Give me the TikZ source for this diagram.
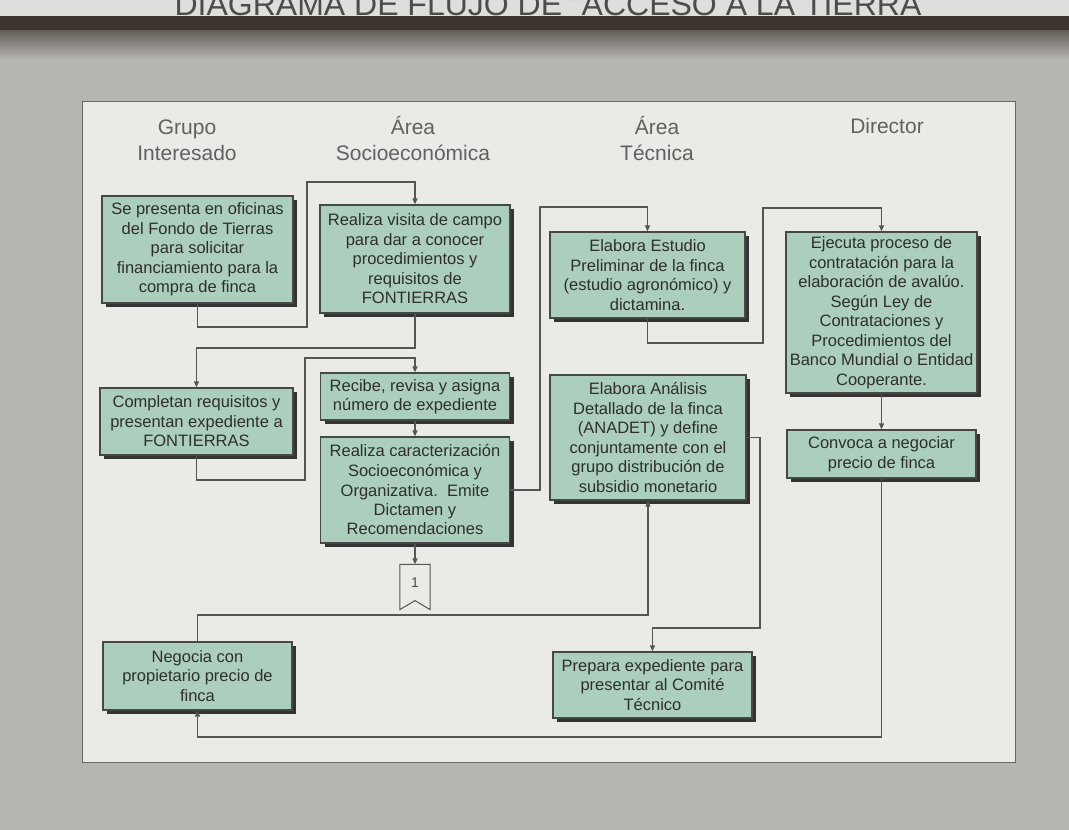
\documentclass[tikz,border=0pt]{standalone}
\usepackage{fontspec}
\setmainfont{Liberation Sans}
\usetikzlibrary{arrows.meta,shadows}

\definecolor{fondo}{RGB}{182,182,179}
\definecolor{panel}{RGB}{234,234,231}
\definecolor{relleno}{RGB}{172,207,189}
\definecolor{borde}{RGB}{70,72,70}
\definecolor{trazo}{RGB}{85,85,85}
\definecolor{banda}{RGB}{62,52,46}

\tikzset{every picture/.style={line width=1.2pt}}

\begin{document}
\begin{tikzpicture}[x=1pt,y=1pt,yscale=-1,
  caja/.style={draw=borde, fill=relleno, line width=1.2pt, align=center, inner sep=1pt,
    font=\fontsize{16.5}{19.5}\selectfont, text=black!82,
    general shadow={fill=black!80, shadow xshift=4pt, shadow yshift=-4pt}},
  linea/.style={draw=trazo, line width=1.3pt},
  flecha/.style={linea, -{Triangle[length=6pt,width=5pt]}},
  encabezado/.style={align=center, font=\fontsize{21}{26}\selectfont, text=black!62}]
\clip (0,0) rectangle (1069,830);

% fondo y banda superior
\fill[fondo] (0,0) rectangle (1069,830);
\fill[panel!95!black] (0,0) rectangle (1069,16);
\shade[top color=banda, bottom color=fondo] (0,16) rectangle (1069,60);
\fill[banda] (0,16) rectangle (1069,30);
\draw (548,15) node [anchor=base, font=\fontsize{32}{32}\selectfont, text=black!70] {DIAGRAMA DE FLUJO DE "ACCESO A LA TIERRA};

% panel
\draw[fill=panel, draw=black!60, line width=1pt] (82,101) rectangle (1015,762);

% encabezados
\node[encabezado] (h1) at (187,140) {Grupo\\Interesado};
\node[encabezado] (h2) at (413,138) {Área\\Socioeconómica};
\node[encabezado] (h3) at (657,138) {Área\\Técnica};
\node[encabezado, anchor=base] (h4) at (887,133) {Director};

% cajas
\node[caja, minimum width=191, minimum height=107] (b1) at (197.5,249.5) {Se presenta en oficinas\\del Fondo de Tierras\\para solicitar\\financiamiento para la\\compra de finca};
\node[caja, minimum width=190, minimum height=108] (b2) at (415,259) {Realiza visita de campo\\para dar a conocer\\procedimientos y\\requisitos de\\FONTIERRAS};
\node[caja, minimum width=195, minimum height=86] (b3) at (647.5,275) {Elabora Estudio\\Preliminar de la finca\\(estudio agronómico) y\\dictamina.};
\node[caja, minimum width=191, minimum height=161] (b4) at (881.5,312.5) {Ejecuta proceso de\\contratación para la\\elaboración de avalúo.\\Según Ley de\\Contrataciones y\\Procedimientos del\\Banco Mundial o Entidad\\Cooperante.};
\node[caja, minimum width=193, minimum height=67] (b5) at (196.5,421.5) {Completan requisitos y\\presentan expediente a\\FONTIERRAS};
\node[caja, minimum width=189, minimum height=47] (b6) at (415,396.5) {Recibe, revisa y asigna\\número de expediente};
\node[caja, minimum width=189, minimum height=106] (b7) at (415,490) {Realiza caracterización\\Socioeconómica y\\Organizativa.\ \ Emite\\Dictamen y\\Recomendaciones};
\node[caja, minimum width=196, minimum height=125] (b8) at (648,437.5) {Elabora Análisis\\Detallado de la finca\\(ANADET) y define\\conjuntamente con el\\grupo distribución de\\subsidio monetario};
\node[caja, minimum width=189, minimum height=48] (b9) at (881.5,454) {Convoca a negociar\\precio de finca};
\node[caja, minimum width=189, minimum height=68] (b10) at (197.5,676) {Negocia con\\propietario precio de\\finca};
\node[caja, minimum width=199, minimum height=66] (b11) at (652.5,685) {Prepara expediente para\\presentar al Comité\\Técnico};

% conector de pagina
\node[minimum width=29, minimum height=35, inner sep=0pt, font=\fontsize{14}{14}\selectfont, text=black!70] (c1) at (415,582.5) {1};
\draw[linea, line width=1pt] (c1.north west) -- (c1.north east) -- ([yshift=9pt]c1.south east) -- (c1.south) -- ([yshift=9pt]c1.south west) -- cycle;

% conexiones
\draw[flecha] (b1.south) |- (307,327) -- (307,182) -| (b2.north);
\draw[flecha] (b2.south) |- (197,348) -| (b5.north);
\draw[flecha] (b5.south) |- (305,480) -- (305,358) -| (b6.north);
\draw[flecha] (b6.south) -- (b7.north);
\draw[flecha] (b7.south) -- (c1.north);
\draw[flecha] (b7.east) -| (540,207) -| (b3.north);
\draw[flecha] (b3.south) |- (763,343) -- (763,208) -| (b4.north);
\draw[flecha] (b4.south) -- (b9.north);
\draw[flecha] (b9.south) |- (197,737) -| (b10.south);
\draw[flecha] (b10.north) |- (648,615) -| (b8.south);
\draw[flecha] (b8.east) -| (760,628) -| (b11.north);

\end{tikzpicture}
\end{document}
